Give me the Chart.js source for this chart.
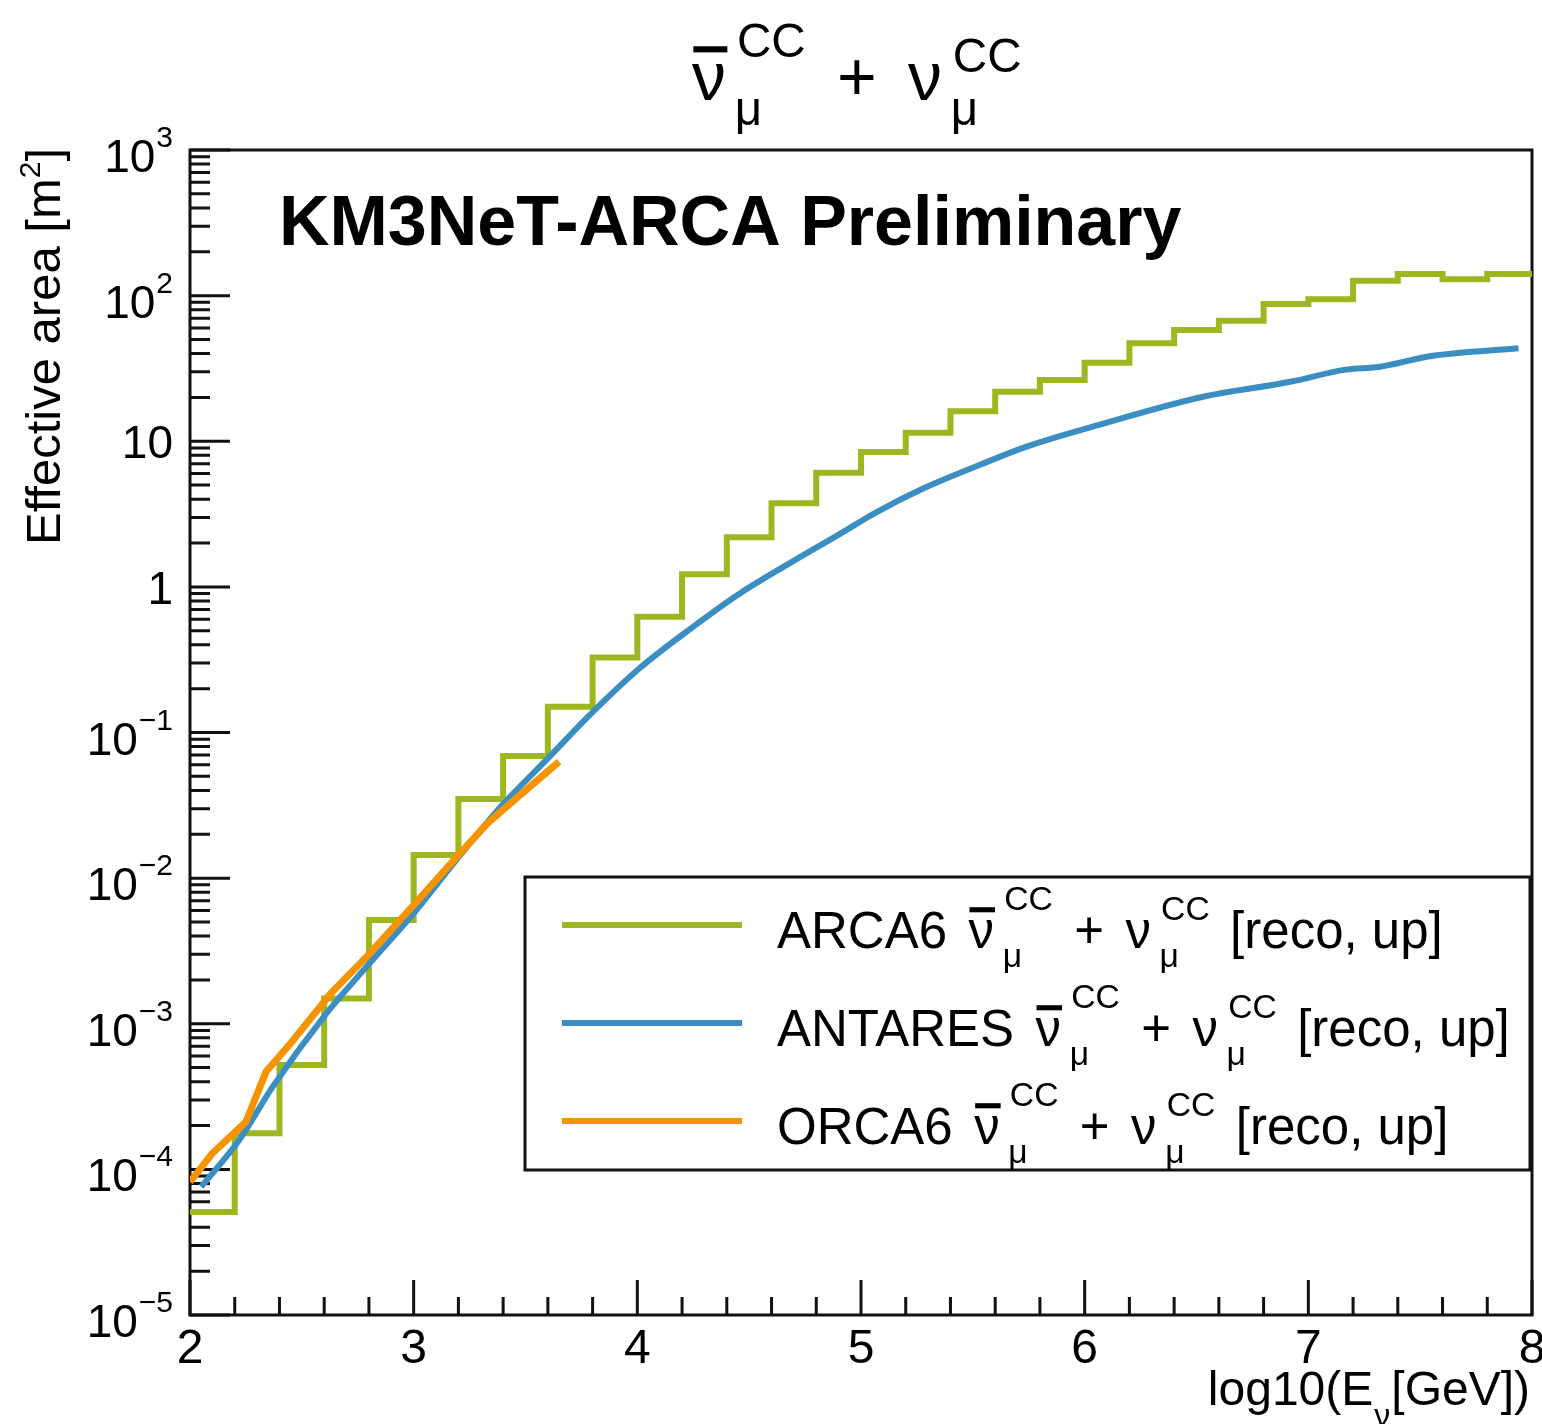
<!DOCTYPE html>
<html>
<head>
<meta charset="utf-8">
<script src="https://cdn.jsdelivr.net/npm/chart.js@4.4.1/dist/chart.umd.min.js"></script>
<style>
  html, body { margin: 0; padding: 0; background: #fff; }
  #wrap { width: 1542px; height: 1424px; }
</style>
</head>
<body>
<div id="wrap"><canvas id="chart" width="1542" height="1424"></canvas></div>
<script>
const FONT = '"Liberation Sans", Arial, sans-serif';

// ARCA6: histogram, lower bin edges in log10(E/GeV) and contents in m^2
const arcaBinLow = [2.0, 2.2, 2.4, 2.6, 2.8, 3.0, 3.2, 3.4, 3.6, 3.8,
                    4.0, 4.2, 4.4, 4.6, 4.8, 5.0, 5.2, 5.4, 5.6, 5.8,
                    6.0, 6.2, 6.4, 6.6, 6.8, 7.0, 7.2, 7.4, 7.6, 7.8];
const arcaBinHigh = 8.0;
const arcaArea = [5.1e-5, 1.77e-4, 5.2e-4, 1.49e-3, 5.15e-3, 0.0144, 0.0349, 0.069, 0.150, 0.328,
                  0.624, 1.22, 2.19, 3.75, 6.08, 8.44, 11.45, 16.1, 21.9, 26.3,
                  34.6, 47.1, 58.1, 67.3, 87.5, 94.4, 126.6, 140.7, 129.4, 140.7];

// ANTARES curve
const antaresLogE = [2.05, 2.22, 2.37, 2.61, 2.79, 3.0, 3.19, 3.39, 3.6, 3.8,
                     4.01, 4.24, 4.46, 4.68, 4.91, 5.06, 5.28, 5.53, 5.74, 6.06,
                     6.53, 6.92, 7.16, 7.32, 7.55, 7.94];
const antaresArea = [7.6e-5, 1.59e-4, 3.7e-4, 1.18e-3, 2.47e-3, 5.73e-3, 0.0133, 0.031, 0.0665, 0.138,
                     0.276, 0.519, 0.904, 1.45, 2.33, 3.2, 4.75, 6.87, 9.18, 12.9,
                     20.2, 25.6, 30.9, 32.5, 38.5, 43.5];

// ORCA6 curve
const orcaLogE = [2.0, 2.1, 2.25, 2.34, 2.45, 2.63, 2.79, 3.0, 3.18, 3.33, 3.45, 3.65];
const orcaArea = [8.2e-5, 1.29e-4, 2.12e-4, 4.69e-4, 7.34e-4, 1.62e-3, 2.89e-3, 6.53e-3, 0.0133, 0.0238, 0.0344, 0.063];

const xTicks = [2, 3, 4, 5, 6, 7, 8];
const yDecades = [-5, -4, -3, -2, -1, 0, 1, 2, 3];

const names = ['ARCA6', 'ANTARES', 'ORCA6'];
const colors = ['#9cb720', '#3a8ec2', '#f59300'];

const arcaPoints = arcaBinLow.map((x, i) => ({ x: x, y: arcaArea[i] }));
arcaPoints.push({ x: arcaBinHigh, y: arcaArea[arcaArea.length - 1] });
const antaresPoints = antaresLogE.map((x, i) => ({ x: x, y: antaresArea[i] }));
const orcaPoints = orcaLogE.map((x, i) => ({ x: x, y: orcaArea[i] }));

// nu-bar_mu^CC + nu_mu^CC, drawn piece by piece
function drawPair(ctx, x, y, s, c) {
  const ss = s * c.sup;
  ctx.textAlign = 'left';
  ctx.font = s + 'px ' + FONT;
  const wNu = ctx.measureText('ν').width;
  const wPlus = ctx.measureText('+').width;
  ctx.fillText('ν', x, y);
  ctx.fillRect(x + 0.02 * s, y - c.barY * s, wNu, c.barT * s);
  ctx.font = ss + 'px ' + FONT;
  const wCC = ctx.measureText('CC').width;
  let xs = x + wNu + c.pad * s;
  ctx.fillText('CC', xs, y - c.rise1 * s);
  ctx.fillText('μ', xs - 0.03 * s, y + c.drop * s);
  xs += wCC + c.gap * s;
  ctx.font = s + 'px ' + FONT;
  ctx.fillText('+', xs, y);
  xs += wPlus + c.gap * s;
  ctx.fillText('ν', xs, y);
  xs += wNu + c.pad * s;
  ctx.font = ss + 'px ' + FONT;
  ctx.fillText('CC', xs, y - c.rise2 * s);
  ctx.fillText('μ', xs - 0.03 * s, y + c.drop * s);
  return xs + wCC;
}

const titleCfg = { sup: 0.7, rise1: 0.63, rise2: 0.41, drop: 0.37, pad: 0.16, gap: 0.46, barY: 0.79, barT: 0.09 };
const legendCfg = { sup: 0.66, rise1: 0.75, rise2: 0.55, drop: 0.37, pad: 0.2, gap: 0.42, barY: 0.8, barT: 0.1 };

const rootStyle = {
  id: 'rootStyle',
  beforeDatasetsDraw(chart) {
    const { ctx, chartArea: a, scales: { x, y } } = chart;
    ctx.save();
    ctx.strokeStyle = '#111';
    ctx.lineWidth = 3;
    ctx.beginPath();
    for (let i = 0; i <= 30; i++) {
      const px = x.getPixelForValue(2 + i * 0.2);
      const len = i % 5 === 0 ? 35 : 18;
      ctx.moveTo(px, a.bottom);
      ctx.lineTo(px, a.bottom - len);
    }
    yDecades.forEach(d => {
      for (let k = 1; k <= 9; k++) {
        const v = k * Math.pow(10, d);
        if (v > 1.0001e3) break;
        const py = y.getPixelForValue(v);
        ctx.moveTo(a.left, py);
        ctx.lineTo(a.left + (k === 1 ? 40 : 20), py);
      }
    });
    ctx.stroke();
    ctx.strokeRect(a.left, a.top, a.right - a.left, a.bottom - a.top);
    ctx.restore();
  },
  afterDraw(chart) {
    const { ctx, scales: { y } } = chart;
    ctx.save();
    ctx.fillStyle = '#000';
    ctx.textBaseline = 'alphabetic';

    // y tick labels
    ctx.textAlign = 'right';
    yDecades.forEach(d => {
      const py = y.getPixelForValue(Math.pow(10, d));
      if (d === 0 || d === 1) {
        ctx.font = '46px ' + FONT;
        ctx.fillText(d === 0 ? '1' : '10', 173, py + 17);
      } else {
        const sup = d < 0 ? '\u2212' + (-d) : String(d);
        ctx.font = '30px ' + FONT;
        ctx.fillText(sup, 173, py - 3);
        const ws = ctx.measureText(sup).width;
        ctx.font = '46px ' + FONT;
        ctx.fillText('10', 173 - ws - 1, py + 22);
      }
    });

    // y title
    ctx.save();
    ctx.translate(60, 148);
    ctx.rotate(-Math.PI / 2);
    ctx.textAlign = 'left';
    ctx.font = '49px ' + FONT;
    const t1 = 'Effective area [m';
    const w1 = ctx.measureText(t1).width;
    const w3 = ctx.measureText(']').width;
    ctx.font = '30px ' + FONT;
    const w2 = ctx.measureText('2').width;
    let sx = -(w1 + w2 + w3);
    ctx.font = '49px ' + FONT;
    ctx.fillText(t1, sx, 0);
    ctx.font = '30px ' + FONT;
    ctx.fillText('2', sx + w1, -20);
    ctx.font = '49px ' + FONT;
    ctx.fillText(']', sx + w1 + w2, 0);
    ctx.restore();

    // x title
    ctx.textAlign = 'right';
    ctx.font = '48px ' + FONT;
    ctx.fillText('[GeV])', 1530, 1405);
    const wg = ctx.measureText('[GeV])').width;
    ctx.font = '32px ' + FONT;
    const wn = ctx.measureText('ν').width;
    ctx.fillText('ν', 1530 - wg - 1, 1426);
    ctx.font = '48px ' + FONT;
    ctx.fillText('log10(E', 1530 - wg - wn - 2, 1405);

    // title
    drawPair(ctx, 692, 100, 68, titleCfg);

    // preliminary label
    ctx.textAlign = 'left';
    ctx.font = 'bold 70px ' + FONT;
    ctx.fillText('KM3NeT-ARCA Preliminary', 279, 245);

    // legend
    ctx.fillStyle = '#fff';
    ctx.fillRect(525, 877, 1005, 293);
    ctx.strokeStyle = '#111';
    ctx.lineWidth = 3;
    ctx.strokeRect(525, 877, 1005, 293);
    const rows = [948, 1046, 1144];
    names.forEach((n, i) => {
      const by = rows[i];
      ctx.strokeStyle = colors[i];
      ctx.lineWidth = 6;
      ctx.beginPath();
      ctx.moveTo(562, by - 23);
      ctx.lineTo(742, by - 23);
      ctx.stroke();
      ctx.fillStyle = '#000';
      ctx.textAlign = 'left';
      ctx.font = '51px ' + FONT;
      ctx.fillText(n, 777, by);
      const wn2 = ctx.measureText(n).width;
      const end = drawPair(ctx, 777 + wn2 + 0.42 * 51, by, 51, legendCfg);
      ctx.font = '51px ' + FONT;
      ctx.fillText('[reco, up]', end + 0.4 * 51, by);
    });
    ctx.restore();
  }
};

new Chart(document.getElementById('chart'), {
  type: 'line',
  data: {
    datasets: [
      { label: names[0], data: arcaPoints, borderColor: colors[0], borderWidth: 6, stepped: true, pointRadius: 0, order: 3 },
      { label: names[1], data: antaresPoints, borderColor: colors[1], borderWidth: 6, cubicInterpolationMode: 'monotone', pointRadius: 0, order: 2 },
      { label: names[2], data: orcaPoints, borderColor: colors[2], borderWidth: 7, pointRadius: 0, order: 1 }
    ]
  },
  options: {
    responsive: false,
    animation: false,
    layout: { padding: { top: 150, right: 10, left: 0, bottom: 0 } },
    plugins: { legend: { display: false }, tooltip: { enabled: false }, title: { display: false } },
    scales: {
      x: {
        type: 'linear', min: 2, max: 8,
        grid: { display: false, drawTicks: false },
        border: { display: false },
        ticks: { color: '#000', font: { family: FONT, size: 48 }, padding: 6, maxRotation: 0 },
        afterBuildTicks: s => { s.ticks = xTicks.map(v => ({ value: v })); },
        afterFit: s => { s.height = 109; s.paddingLeft = 0; s.paddingRight = 0; }
      },
      y: {
        type: 'logarithmic', min: 1e-5, max: 1e3,
        grid: { display: false },
        border: { display: false },
        ticks: { display: false },
        afterFit: s => { s.width = 190; s.paddingTop = 0; s.paddingBottom = 0; }
      }
    }
  },
  plugins: [rootStyle]
});
</script>
</body>
</html>
